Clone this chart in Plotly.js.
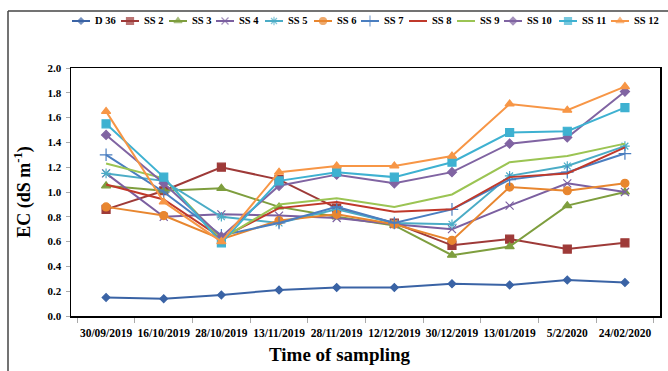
<!DOCTYPE html>
<html><head><meta charset="utf-8">
<script src="https://cdn.plot.ly/plotly-3.0.1.min.js"></script>
<style>html,body{margin:0;padding:0;background:#fff}#chart{width:668px;height:371px}</style>
</head><body><div id="chart"></div>
<script>
const dates = ["30/09/2019","16/10/2019","28/10/2019","13/11/2019","28/11/2019","12/12/2019","30/12/2019","13/01/2019","5/2/2020","24/02/2020"];
const names = ["D 36","SS 2","SS 3","SS 4","SS 5","SS 6","SS 7","SS 8","SS 9","SS 10","SS 11","SS 12"];
const D36  = [0.15,0.14,0.17,0.21,0.23,0.23,0.26,0.25,0.29,0.27];
const SS2  = [0.86,1.01,1.20,1.10,0.87,0.75,0.57,0.62,0.54,0.59];
const SS3  = [1.05,1.01,1.03,0.88,0.80,0.73,0.49,0.56,0.89,1.00];
const SS4  = [1.15,0.80,0.82,0.81,0.79,0.74,0.70,0.89,1.07,1.00];
const SS5  = [1.15,1.09,0.80,0.75,0.86,0.75,0.74,1.13,1.21,1.37];
const SS6  = [0.88,0.81,0.62,0.77,0.82,0.74,0.61,1.04,1.01,1.07];
const SS7  = [1.30,1.00,0.65,0.75,0.88,0.75,0.86,1.10,1.16,1.31];
const SS8  = [1.06,0.94,0.63,0.87,0.92,0.84,0.86,1.12,1.15,1.36];
const SS9  = [1.23,1.11,0.62,0.90,0.95,0.88,0.98,1.24,1.29,1.39];
const SS10 = [1.46,1.07,0.64,1.05,1.14,1.07,1.16,1.39,1.44,1.81];
const SS11 = [1.55,1.12,0.59,1.09,1.16,1.12,1.24,1.48,1.49,1.68];
const SS12 = [1.65,0.92,0.60,1.16,1.21,1.21,1.29,1.71,1.66,1.85];
const seriesValues = [D36,SS2,SS3,SS4,SS5,SS6,SS7,SS8,SS9,SS10,SS11,SS12];
const xTitle = "Time of sampling";
const yTitle = "EC (dS m<sup>-1</sup>)";

// styles
const colors = ["#3A63A5","#9E3A38","#7E9E3E","#7B5FA0","#4BACC6","#E8862F","#4A7EC0","#C0392B","#9BC453","#8064A2","#3EB1D1","#F79646"];
const symbols = ["diamond","square","triangle-up","x-thin-open","asterisk-open","circle","cross-thin-open","circle","circle","diamond","square","triangle-up"];
const markerSizes = [6,8,8,8,8,8,9,0,0,7,8,8];

// layout geometry (pixels in the 668x371 canvas)
const W = 668, H = 371;
const plotL = 71, plotR = 660, plotT = 68, plotB = 316;
const legendY = 21, legendLineLen = 18, legendTextGap = 3;
const legendStarts = [72,121,169,216,265,314,361,409,457,504,559,611];
const xTitlePos = {x: 340, y: 354};

const font = {family: "Liberation Serif, Times New Roman, serif", color: "#000"};

const traces = seriesValues.map((v,i)=>({
  x: dates, y: v, name: names[i], type: "scatter", xaxis: "x", yaxis: "y",
  mode: markerSizes[i] > 0 ? "lines+markers" : "lines",
  line: {color: colors[i], width: 2},
  marker: {symbol: symbols[i], size: markerSizes[i], color: colors[i], line: {color: colors[i], width: 1.2}},
  showlegend: false
}));

// custom one-row legend: marker glyphs on a pixel-space overlay axis
const legIdx = names.map((n,i)=>i).filter(i=>markerSizes[i] > 0);
traces.push({
  type: "scatter", mode: "markers", xaxis: "x2", yaxis: "y2", showlegend: false, hoverinfo: "skip",
  x: legIdx.map(i=>legendStarts[i] + legendLineLen/2),
  y: legIdx.map(()=>legendY),
  marker: {symbol: legIdx.map(i=>symbols[i]), size: legIdx.map(i=>Math.max(5, markerSizes[i]-1)),
           color: legIdx.map(i=>colors[i]), line: {color: legIdx.map(i=>colors[i]), width: 1.2}},
  cliponaxis: false
});

const shapes = [
  {type: "line", xref: "paper", yref: "paper", x0: 8/W, x1: 1.01, y0: 1-11/H, y1: 1-11/H, line: {color: "#444", width: 1.5}},
  {type: "line", xref: "paper", yref: "paper", x0: 8/W, x1: 8/W, y0: 1-11/H, y1: -0.02, line: {color: "#444", width: 1.5}}
];
const annotations = [];
names.forEach((n,i)=>{
  shapes.push({type: "line", xref: "paper", yref: "paper",
    x0: legendStarts[i]/W, x1: (legendStarts[i]+legendLineLen)/W, y0: 1-legendY/H, y1: 1-legendY/H,
    line: {color: colors[i], width: 2}});
  annotations.push({xref: "paper", yref: "paper", x: (legendStarts[i]+legendLineLen+legendTextGap)/W, y: 1-legendY/H,
    xanchor: "left", yanchor: "middle", showarrow: false, text: n,
    font: {family: font.family, size: 10.5, weight: "bold", color: "#000"}});
});
annotations.push({xref: "paper", yref: "paper", x: xTitlePos.x/W, y: 1-xTitlePos.y/H, xanchor: "center", yanchor: "middle",
  showarrow: false, text: xTitle, font: {family: font.family, size: 19, weight: "bold", color: "#000"}});

const layout = {
  width: W, height: H,
  margin: {l: 0, r: 0, t: 0, b: 0, pad: 0},
  paper_bgcolor: "#fff", plot_bgcolor: "rgba(0,0,0,0)",
  font: font, showlegend: false,
  xaxis: {type: "category", domain: [plotL/W, plotR/W], tickson: "boundaries", ticks: "outside", ticklen: 5, tickcolor: "#aaa",
          showgrid: false, zeroline: false, showline: true, linecolor: "#000", linewidth: 1.5, mirror: true, automargin: false,
          tickfont: {family: font.family, size: 11.5, weight: "bold", color: "#000"}, tickangle: 0, ticklabelstandoff: 6},
  yaxis: {domain: [1-plotB/H, 1-plotT/H], range: [0, 2.0], dtick: 0.2, tickformat: ".1f", ticks: "outside", ticklen: 4, tickcolor: "#aaa",
          showgrid: false, zeroline: false, showline: true, linecolor: "#000", linewidth: 1.5, mirror: true, automargin: false,
          tickfont: {family: font.family, size: 11, weight: "bold", color: "#000"}, ticklabelstandoff: 2,
          title: {text: yTitle, font: {family: font.family, size: 18, weight: "bold", color: "#000"}, standoff: 12}},
  xaxis2: {domain: [0,1], range: [0, W], visible: false, fixedrange: true, anchor: "y2"},
  yaxis2: {domain: [0,1], range: [H, 0], visible: false, fixedrange: true, anchor: "x2"},
  shapes: shapes, annotations: annotations
};
Plotly.newPlot("chart", traces, layout, {displayModeBar: false, staticPlot: true});
</script></body></html>
